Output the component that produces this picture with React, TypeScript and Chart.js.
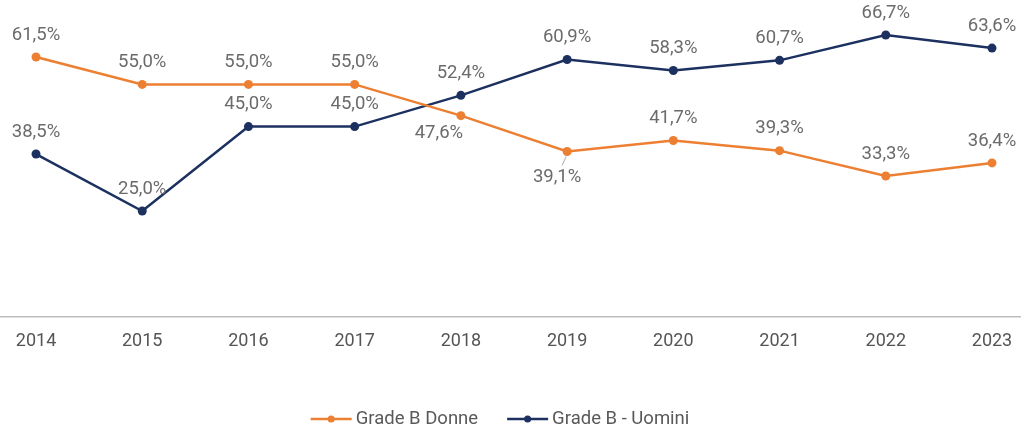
import React, { useEffect, useRef } from "react";
import { Chart, registerables } from "chart.js";

Chart.register(...registerables);

const years = [2014, 2015, 2016, 2017, 2018, 2019, 2020, 2021, 2022, 2023];
const donne = [61.5, 55.0, 55.0, 55.0, 47.6, 39.1, 41.7, 39.3, 33.3, 36.4];
const uomini = [38.5, 25.0, 45.0, 45.0, 52.4, 60.9, 58.3, 60.7, 66.7, 63.6];
const seriesNames = ["Grade B Donne", "Grade B - Uomini"];

const ORANGE = "#EC7F32";
const NAVY = "#1C3160";
const FONT = "Roboto, 'Noto Sans', sans-serif";
const LABEL_COLOR = "#6b6b6b";

const fmt = (v: number) => v.toFixed(1).replace(".", ",") + "%";

// label placement per dataset/index: [dx, dy]
const labelOffsets: Record<string, [number, number]> = {
  "0-4": [-22, 18],
  "0-5": [-10, 26],
};

const labelsPlugin = {
  id: "pointLabels",
  afterDatasetsDraw(chart: any) {
    const ctx = chart.ctx;
    ctx.save();
    ctx.font = `18.5px ${FONT}`;
    ctx.fillStyle = LABEL_COLOR;
    ctx.textAlign = "center";
    ctx.textBaseline = "middle";
    chart.data.datasets.forEach((ds: any, di: number) => {
      const meta = chart.getDatasetMeta(di);
      meta.data.forEach((pt: any, i: number) => {
        const off = labelOffsets[`${di}-${i}`] || [0, -22];
        const x = pt.x + off[0];
        const y = pt.y + off[1];
        if (di === 0 && i === 5) {
          ctx.save();
          ctx.strokeStyle = "#aaaaaa";
          ctx.lineWidth = 1;
          ctx.beginPath();
          ctx.moveTo(pt.x - 5, pt.y + 14);
          ctx.lineTo(pt.x - 1, pt.y + 5);
          ctx.stroke();
          ctx.restore();
        }
        ctx.fillText(fmt(ds.data[i].y), x, y);
      });
    });
    ctx.restore();
  },
};

const legendPlugin = {
  id: "customLegend",
  afterDraw(chart: any) {
    const ctx = chart.ctx;
    ctx.save();
    ctx.font = `18.5px ${FONT}`;
    ctx.textBaseline = "middle";
    ctx.textAlign = "left";
    const y = 419;
    const lineW = 41;
    const gap = 4;
    const between = 29;
    const items = chart.data.datasets.map((ds: any) => ({
      label: ds.label,
      color: ds.borderColor,
      w: lineW + gap + ctx.measureText(ds.label).width,
    }));
    const total = items.reduce((s: number, it: any) => s + it.w, 0) + between * (items.length - 1);
    let x = 500 - total / 2;
    items.forEach((it: any) => {
      ctx.strokeStyle = it.color;
      ctx.lineWidth = 2.5;
      ctx.beginPath();
      ctx.moveTo(x, y);
      ctx.lineTo(x + lineW, y);
      ctx.stroke();
      ctx.fillStyle = it.color;
      ctx.beginPath();
      ctx.arc(x + lineW / 2, y, 3.5, 0, Math.PI * 2);
      ctx.fill();
      ctx.fillStyle = "#595959";
      ctx.fillText(it.label, x + lineW + gap, y);
      x += it.w + between;
    });
    ctx.restore();
  },
};

export default function App() {
  const ref = useRef<HTMLCanvasElement>(null);
  useEffect(() => {
    if (!ref.current) return;
    const chart = new Chart(ref.current, {
      type: "line",
      data: {
        datasets: [
          {
            label: seriesNames[0],
            data: years.map((y, i) => ({ x: y, y: donne[i] })),
            borderColor: ORANGE,
            backgroundColor: ORANGE,
            borderWidth: 2.5,
            pointRadius: 4.5,
            pointBackgroundColor: ORANGE,
            pointBorderWidth: 0,
            clip: false as any,
          },
          {
            label: seriesNames[1],
            data: years.map((y, i) => ({ x: y, y: uomini[i] })),
            borderColor: NAVY,
            backgroundColor: NAVY,
            borderWidth: 2.5,
            pointRadius: 4.5,
            pointBackgroundColor: NAVY,
            pointBorderWidth: 0,
            clip: false as any,
          },
        ],
      },
      options: {
        animation: false,
        responsive: false,
        layout: { padding: 0, autoPadding: false },
        plugins: { legend: { display: false }, tooltip: { enabled: false } },
        scales: {
          x: {
            type: "linear",
            min: 2013.661,
            max: 2023.273,
            afterBuildTicks: (axis: any) => {
              axis.ticks = years.map((v) => ({ value: v }));
            },
            afterFit: (axis: any) => {
              axis.height = 111.5;
              axis.paddingLeft = 0;
              axis.paddingRight = 0;
            },
            grid: { display: false, drawTicks: false },
            border: { display: true, color: "#bdbdbd", width: 1.5 },
            ticks: {
              padding: 14,
              maxRotation: 0,
              autoSkip: false,
              color: "#555555",
              font: { family: FONT, size: 18 },
              callback: (v: any) => String(v),
            },
          },
          y: {
            display: false,
            min: 0,
            max: 75,
          },
        },
      },
      plugins: [labelsPlugin, legendPlugin],
    });
    return () => chart.destroy();
  }, []);
  return (
    <div style={{ position: "fixed", left: 0, top: 0, width: 1021, height: 428, background: "#fff" }}>
      <canvas ref={ref} width={1021} height={428} style={{ display: "block" }} />
    </div>
  );
}
